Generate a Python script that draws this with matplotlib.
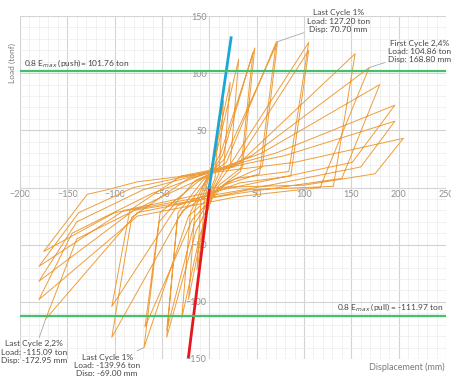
import numpy as np
import matplotlib.pyplot as plt
from matplotlib.ticker import MultipleLocator

plt.rcParams['font.family'] = ['Lato', 'DejaVu Sans']

# hysteresis path (displacement mm, load ton)
disp = [0, 4, 9, 6, 0, -4, -8, -5, 0,
        5, 15, 10, 2, -6, -13, -9, -2,
        6, 22, 15, 4, -8, -22, -15, -3,
        8, 31, 22, 6, -10, -29, -20, -4,
        12, 48, 35, 10, -14, -45, -34, -6,
        14, 46, 33, 8, -16, -45, -33, -8,
        16, 72, 56, 18, -18, -68, -52, -12,
        18, 70.7, 53, 15, -22, -69, -53, -15,
        22, 105, 84, 28, -28, -103, -82, -22,
        26, 105, 86, 32, -34, -103, -84, -30,
        30, 154, 131, 42, -76, -172.95, -140, -50,
        45, 168.8, 117, 30, -76, -180, -145, -60,
        55, 180, 140, 40, -80, -180, -140, -70,
        70, 196, 151, 60, -90, -180, -138, -80,
        80, 196, 160, 70, -100, -175, -129, -108, -76,
        90, 205, 175, 100, 0]
load = [0, 25, 48, 8, -4, -28, -46, -8, 4,
        30, 76, 12, -3, -35, -72, -12, 4,
        30, 92, 15, -2, -40, -98, -18, 5,
        32, 112, 18, 0, -42, -114, -22, 6,
        30, 122, 18, 2, -38, -131, -28, 3,
        28, 118, 14, -2, -32, -125, -22, 5,
        25, 127, 18, 4, -28, -122, -22, 5,
        22, 127.2, 12, 2, -25, -139.96, -30, 6,
        20, 127, 14, 8, -20, -131, -26, 8,
        18, 120, 10, 4, -16, -104, -20, 10,
        20, 117, 1, -2, -22, -115.09, -45, -8,
        28, 104.86, 0, -8, -25, -98, -40, -5,
        30, 90, 8, -4, -20, -82, -30, -2,
        30, 72, 22, 6, -20, -69, -22, 0,
        28, 58, 18, 3, -22, -56, -6, -2, 5,
        22, 43, 12, 2, 0]

# initial stiffness lines
push_line_d = [0, 23]
push_line_f = [0, 131]
pull_line_d = [0, -22]
pull_line_f = [-2, -148]

push_limit = 101.76
pull_limit = -111.97

fig = plt.figure(figsize=(4.51, 3.76), dpi=100)
ax = fig.add_axes([20 / 451, 1 - 359 / 376, 426 / 451, 343 / 376])
ax.set_xlim(-200, 250)
ax.set_ylim(-150, 150)

ax.xaxis.set_major_locator(MultipleLocator(50))
ax.yaxis.set_major_locator(MultipleLocator(50))
ax.xaxis.set_minor_locator(MultipleLocator(10))
ax.yaxis.set_minor_locator(MultipleLocator(10))
ax.grid(which='major', color='#d4d4d4', lw=0.8)
ax.grid(which='minor', color='#ececec', lw=0.5)
ax.set_axisbelow(True)
for s in ax.spines.values():
    s.set_visible(False)
ax.spines['left'].set_position('zero')
ax.spines['bottom'].set_position('zero')
ax.tick_params(which='both', length=0, labelsize=6.5, labelcolor='#909090', pad=2)

ax.plot(disp, load, color='#ee9d3a', lw=0.7)
ax.plot(pull_line_d, pull_line_f, color='#e8161b', lw=2)
ax.plot(push_line_d, push_line_f, color='#1aa7d6', lw=2)

ax.axhline(push_limit, color='#45c06a', lw=1.6)
ax.axhline(pull_limit, color='#45c06a', lw=1.6)

tc = '#454545'
fs = 6
ax.text(-195.5, push_limit + 2, r'0.8 E$_{max}$ (push)= 101.76 ton', fontsize=fs, color=tc, va='bottom')
ax.text(247, pull_limit + 2, r'0.8 E$_{max}$ (pull) = -111.97 ton', fontsize=fs, color=tc, va='bottom', ha='right')

lead = dict(arrowstyle='-', color='#a8a8a8', lw=0.6, shrinkA=0, shrinkB=0)
ax.annotate('Last Cycle 1%\nLoad: 127.20 ton\nDisp: 70.70 mm', xy=(70.7, 127.2), xytext=(136, 145.6),
            fontsize=fs, color=tc, ha='center', va='center', linespacing=1.2, annotation_clip=False,
            arrowprops=lead)
ax.annotate('First Cycle 2,4%\nLoad: 104.86 ton\nDisp: 168.80 mm', xy=(168.8, 104.86), xytext=(222, 119),
            fontsize=fs, color=tc, ha='center', va='center', linespacing=1.2, annotation_clip=False,
            arrowprops=lead)
ax.annotate('Last Cycle 2,2%\nLoad: -115.09 ton\nDisp: -172.95 mm', xy=(-172.95, -115.09), xytext=(-185, -144),
            fontsize=fs, color=tc, ha='center', va='center', linespacing=1.2, annotation_clip=False,
            arrowprops=lead)
ax.annotate('Last Cycle 1%\nLoad: -139.96 ton\nDisp: -69.00 mm', xy=(-69, -139.96), xytext=(-108, -155.5),
            fontsize=fs, color=tc, ha='center', va='center', linespacing=1.2, annotation_clip=False,
            arrowprops=lead)

fig.text(12 / 451, 1 - 63 / 376, 'Load (tonf)', rotation=90, fontsize=fs, color='#7a7a7a', ha='center', va='center')
fig.text(407 / 451, 1 - 367 / 376, 'Displacement (mm)', fontsize=fs + 0.5, color='#7a7a7a', ha='center', va='center')

fig.savefig('out.png', dpi=100)
